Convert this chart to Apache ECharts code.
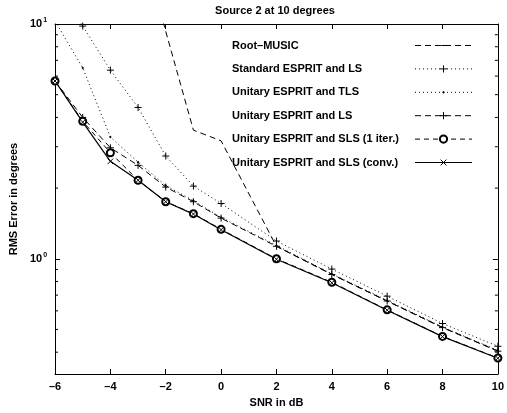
<!DOCTYPE html>
<html><head><meta charset="utf-8">
<script src="https://cdn.jsdelivr.net/npm/echarts@6/dist/echarts.min.js"></script>
<style>html,body{margin:0;padding:0;background:#fff}#c{width:507px;height:413px}</style>
</head><body><div id="c"></div>
<script>
// ---- data ----
const snr = [-6, -5, -4, -3, -2, -1, 0, 2, 4, 6, 8, 10];
const rootMusic    = [80, 60, 40, 25, 9.3, 3.53, 3.18, 1.13, 0.86, 0.66, 0.51, 0.405];
const stdEspritLS  = [15, 9.8, 6.36, 4.41, 2.74, 2.04, 1.72, 1.19, 0.904, 0.693, 0.53, 0.424];
const uniEspritTLS = [10.3, 6.5, 3.3, 2.58, 2.05, 1.77, 1.5, 1.14, 0.862, 0.665, 0.512, 0.407];
const uniEspritLS  = [5.72, 4.0, 2.97, 2.5, 2.02, 1.75, 1.49, 1.13, 0.857, 0.661, 0.509, 0.404];
const uniSLS1      = [5.72, 3.85, 2.83, 2.16, 1.75, 1.557, 1.335, 1.0, 0.794, 0.606, 0.467, 0.378];
const uniSLSconv   = [5.72, 3.82, 2.6, 2.16, 1.75, 1.55, 1.33, 0.995, 0.79, 0.604, 0.466, 0.377];
const seriesNames = ['Root\u2013MUSIC', 'Standard ESPRIT and LS', 'Unitary ESPRIT and TLS',
  'Unitary ESPRIT and LS', 'Unitary ESPRIT and SLS (1 iter.)', 'Unitary ESPRIT and SLS (conv.)'];
const xMin = -6, xMax = 10, xInterval = 2;
const yMin = 0.323, yMax = 10;
const minorTickValues = [0.4, 0.5, 0.6, 0.7, 0.8, 0.9, 2, 3, 4, 5, 6, 7, 8, 9];
const titleText = 'Source 2 at 10 degrees';
const xName = 'SNR in dB';
const yName = 'RMS Error in degrees';

// ---- chart ----
const FONT = 'Liberation Sans';
const pair = arr => snr.map((x, i) => [x, arr[i]]);
const plusSym = 'path://M5,0L5,10M0,5L10,5';
const xSym = 'path://M1,1L9,9M9,1L1,9M0,0L0,0M10,10L10,10';
const dashSym = 'path://M0,0L0,0M2,5L8,5M10,10L10,10';
const dotSym = 'path://M0,0L0,0M10,10L10,10M5,4A1,1,0,1,1,5,6A1,1,0,1,1,5,4Z';

function lineSeries(name, arr, dash, symbol, size, extra) {
  return Object.assign({
    name, type: 'line', data: pair(arr), symbol, symbolSize: size,
    showSymbol: true, clip: true, animation: false,
    lineStyle: { color: '#000', width: 1, type: dash },
    itemStyle: { color: '#000', borderColor: '#000', borderWidth: 1 },
    emphasis: { disabled: true }
  }, extra || {});
}

const chart = echarts.init(document.getElementById('c'), null, { renderer: 'canvas' });
const labelText = { fontFamily: FONT, fontWeight: 'bold', fontSize: 11, color: '#000' };

chart.setOption({
  animation: false,
  backgroundColor: '#fff',
  title: {
    text: titleText, left: 275, top: 5, textAlign: 'center', padding: 0,
    textStyle: { fontFamily: FONT, fontWeight: 'bold', fontSize: 11, color: '#000' }
  },
  grid: { left: 48, right: 5, top: 24, bottom: 33 },
  legend: {
    data: seriesNames,
    orient: 'vertical', left: 232, top: 40, padding: 0, align: 'right',
    itemWidth: 57, itemHeight: 9, itemGap: 12.4, selectedMode: false,
    lineStyle: { width: 1 },
    itemStyle: { borderWidth: 1 },
    formatter: name => '{t|' + name + '}',
    textStyle: {
      rich: { t: { fontFamily: FONT, fontWeight: 'bold', fontSize: 11, color: '#000', width: 178, align: 'left', lineHeight: 14 } }
    }
  },
  xAxis: [
    {
      type: 'value', min: xMin, max: xMax, interval: xInterval,
      name: xName, nameLocation: 'middle', nameGap: 23,
      nameTextStyle: labelText,
      axisLine: { show: true, onZero: false, lineStyle: { color: '#000', width: 1 } },
      axisTick: { show: true, inside: true, length: 5, lineStyle: { color: '#000' } },
      axisLabel: Object.assign({ margin: 7, formatter: v => v < 0 ? '\u2013' + (-v) : String(v) }, labelText),
      splitLine: { show: false }
    },
    {
      type: 'value', min: xMin, max: xMax, interval: xInterval, position: 'top',
      axisLine: { show: true, onZero: false, lineStyle: { color: '#000', width: 1 } },
      axisTick: { show: true, inside: true, length: 5, lineStyle: { color: '#000' } },
      axisLabel: { show: false }, splitLine: { show: false }
    }
  ],
  yAxis: [
    {
      type: 'log', logBase: 10, min: yMin, max: yMax,
      name: yName, nameLocation: 'middle', nameGap: 31,
      nameTextStyle: labelText,
      axisLine: { show: true, onZero: false, lineStyle: { color: '#000', width: 1 } },
      axisTick: { show: true, inside: true, length: 5, lineStyle: { color: '#000' } },
      axisLabel: {
        margin: 8,
        formatter: v => Math.abs(v - 1) < 1e-6 ? '{b|10}{s|0}' : (Math.abs(v - 10) < 1e-5 ? '{b|10}{s|1}' : ''),
        rich: {
          b: { fontFamily: FONT, fontWeight: 'bold', fontSize: 11, color: '#000', lineHeight: 14 },
          s: { fontFamily: FONT, fontWeight: 'bold', fontSize: 7, color: '#000', lineHeight: 8, verticalAlign: 'top', padding: [0, 0, 0, 1] }
        }
      },
      splitLine: { show: false }, minorSplitLine: { show: false }
    },
    {
      type: 'log', logBase: 10, min: yMin, max: yMax, position: 'right',
      axisLine: { show: true, onZero: false, lineStyle: { color: '#000', width: 1 } },
      axisTick: { show: true, inside: true, length: 5, lineStyle: { color: '#000' } },
      axisLabel: { show: false }, splitLine: { show: false }
    }
  ],
  series: [
    lineSeries(seriesNames[0], rootMusic, [6, 4], dashSym, 8, { showSymbol: false }),
    lineSeries(seriesNames[1], stdEspritLS, [1, 3], plusSym, 7),
    lineSeries(seriesNames[2], uniEspritTLS, [1, 3], dotSym, 7),
    lineSeries(seriesNames[3], uniEspritLS, [6, 4], plusSym, 7),
    lineSeries(seriesNames[4], uniSLS1, [5, 4], 'emptyCircle', 7,
      { itemStyle: { color: '#000', borderColor: '#000', borderWidth: 1 } }),
    lineSeries(seriesNames[5], uniSLSconv, 'solid', xSym, 7, { lineStyle: { color: '#000', width: 1.2, type: 'solid' } }),
    {
      name: 'minorTicks', type: 'custom', silent: true, clip: false, animation: false,
      data: minorTickValues.map(v => [xMin, v]),
      renderItem: function (params, api) {
        const v = api.value(1);
        const l = api.coord([xMin, v]);
        const r = api.coord([xMax, v]);
        return {
          type: 'group', children: [
            { type: 'line', shape: { x1: l[0], y1: l[1], x2: l[0] + 3, y2: l[1] }, style: { stroke: '#000', lineWidth: 1 } },
            { type: 'line', shape: { x1: r[0] - 3, y1: r[1], x2: r[0], y2: r[1] }, style: { stroke: '#000', lineWidth: 1 } }
          ]
        };
      }
    }
  ]
});
</script>
</body></html>
